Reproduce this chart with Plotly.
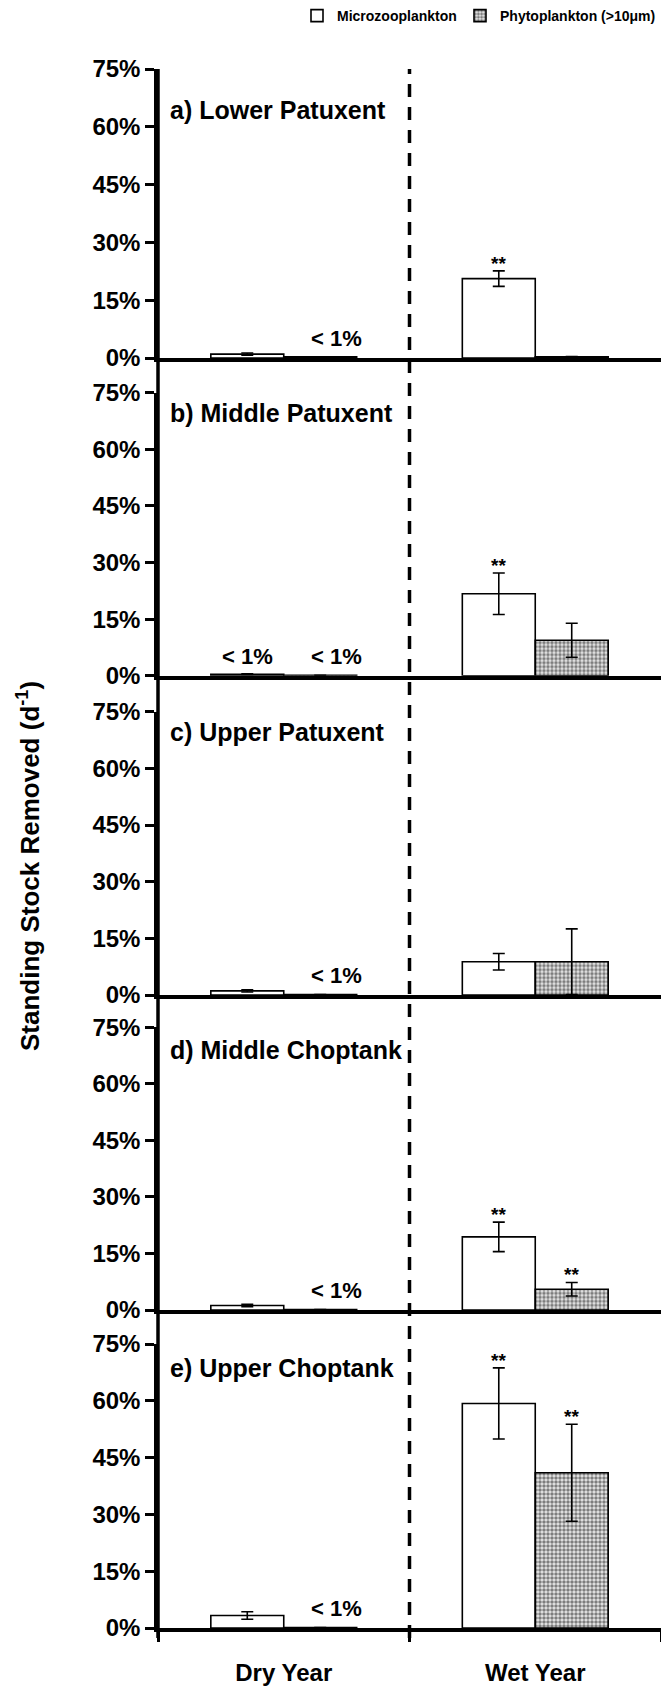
import plotly.graph_objects as go

# ---------------- data ----------------
years = ["Dry Year", "Wet Year"]
panel_titles = ["a) Lower Patuxent", "b) Middle Patuxent", "c) Upper Patuxent",
                "d) Middle Choptank", "e) Upper Choptank"]

micro_dry = [1.0, 0.4, 1.1, 1.2, 3.3]
micro_wet = [20.6, 21.7, 8.8, 19.4, 59.3]
micro_dry_err = [0.3, 0.1, 0.3, 0.3, 1.0]
micro_wet_err = [2.0, 5.5, 2.2, 3.9, 9.4]

phyto_dry = [0.3, 0.1, 0.1, 0.1, 0.1]
phyto_wet = [0.3, 9.4, 8.8, 5.5, 41.0]
phyto_dry_err = [0.0, 0.0, 0.0, 0.0, 0.0]
phyto_wet_err = [0.1, 4.5, 8.7, 1.8, 12.8]

micro_notes = [["", "**"], ["< 1%", "**"], ["", ""], ["", "**"], ["", "**"]]
phyto_notes = [["< 1%", ""], ["< 1%", ""], ["< 1%", ""], ["< 1%", "**"], ["< 1%", "**"]]

y_ticks = [0, 15, 30, 45, 60, 75]
y_tick_labels = ["0%", "15%", "30%", "45%", "60%", "75%"]

# ---------------- layout constants ----------------
W, H = 661, 1686
ML, MR, MT, MB = 158, 0, 69, 58
PH = H - MT - MB
panel_px = [(69, 358), (392.7, 675.7), (711.7, 995), (1027.3, 1310), (1344, 1628)]
label_drop = [41, 20, 20, 23, 24]

FONT = "Liberation Sans, Arial, Helvetica, sans-serif"
BAR_W = 0.29
OFF = BAR_W / 2


def to_paper(px):
    return (H - MB - px) / PH


fig = go.Figure()
annotations = []

for i in range(5):
    n = "" if i == 0 else str(i + 1)
    xa, ya = "x" + n, "y" + n
    fig.add_trace(go.Bar(
        x=years, y=[micro_dry[i], micro_wet[i]],
        error_y=dict(type="data", array=[micro_dry_err[i], micro_wet_err[i]],
                     color="black", thickness=1.6, width=6),
        marker=dict(color="white", line=dict(color="black", width=1.6)),
        name="Microzooplankton", legend="legend", showlegend=(i == 0),
        xaxis=xa, yaxis=ya, width=BAR_W, offset=-BAR_W,
    ))
    fig.add_trace(go.Bar(
        x=years, y=[phyto_dry[i], phyto_wet[i]],
        error_y=dict(type="data", array=[phyto_dry_err[i], phyto_wet_err[i]],
                     color="black", thickness=1.6, width=6),
        marker=dict(color="#d0d0d0", line=dict(color="black", width=1.6),
                    pattern=dict(shape=".", fgcolor="#111111", bgcolor="#e8e8e8",
                                 size=4, solidity=0.6)),
        name="Phytoplankton (>10\u03bcm)", legend="legend2", showlegend=(i == 0),
        xaxis=xa, yaxis=ya, width=BAR_W, offset=0,
    ))

    top, bot = panel_px[i]
    fig.layout["xaxis" + n] = dict(
        domain=[0, 1], anchor=ya, type="category", categoryarray=years,
        range=[-0.5, 1.5], showline=True, linewidth=3.5, linecolor="black",
        showgrid=False, zeroline=False, showticklabels=(i == 4),
        ticks="outside" if i == 4 else "", tickson="boundaries",
        ticklen=10, tickwidth=3, tickcolor="black", ticklabelstandoff=20,
        tickfont=dict(family=FONT, size=24, color="black", weight="bold"),
    )
    fig.layout["yaxis" + n] = dict(
        domain=[to_paper(bot), to_paper(top)], anchor=xa, range=[0, 75],
        tickmode="array", tickvals=y_ticks, ticktext=y_tick_labels,
        ticks="outside", ticklen=9,
        tickwidth=3, tickcolor="black", showline=True, linewidth=3.5,
        linecolor="black", showgrid=False, zeroline=False,
        tickfont=dict(family=FONT, size=24, color="black", weight="bold"),
    )

    annotations.append(dict(
        text=panel_titles[i], xref="paper", yref=ya + " domain",
        x=0.02, y=1, yshift=-label_drop[i], xanchor="left", yanchor="middle",
        showarrow=False, font=dict(family=FONT, size=25, color="black", weight="bold"),
    ))

    vals = [(micro_dry[i], micro_dry_err[i], phyto_dry[i], phyto_dry_err[i]),
            (micro_wet[i], micro_wet_err[i], phyto_wet[i], phyto_wet_err[i])]
    for j in range(2):
        mv, me, pv, pe = vals[j]
        for note, v, e, off, xs in ((micro_notes[i][j], mv, me, -OFF, 0),
                                    (phyto_notes[i][j], pv, pe, OFF, 16)):
            if note == "**":
                annotations.append(dict(
                    text="**", xref=xa, yref=ya, x=j + off, y=v + e, yshift=-5,
                    xanchor="center", yanchor="bottom", showarrow=False,
                    font=dict(family=FONT, size=19, color="black", weight="bold"),
                ))
            elif note:
                annotations.append(dict(
                    text=note, xref=xa, yref=ya, x=j + off, y=0, xshift=xs,
                    yshift=5, xanchor="center", yanchor="bottom", showarrow=False,
                    font=dict(family=FONT, size=22, color="black", weight="bold"),
                ))

annotations.append(dict(
    text="Standing Stock Removed (d<sup>-1</sup>)", xref="paper", yref="paper",
    x=(28 - ML) / (W - ML - MR), y=to_paper(866), textangle=-90,
    xanchor="center", yanchor="middle", showarrow=False,
    font=dict(family=FONT, size=26, color="black", weight="bold"),
))

shapes = [
    dict(type="line", xref="x5", yref="paper", x0=0.5, x1=0.5,
         y0=to_paper(1638), y1=1.0, line=dict(color="black", width=3.5, dash="13px,10px")),
    dict(type="line", xref="paper", yref="paper", x0=0, x1=0,
         y0=to_paper(1638), y1=1.0, line=dict(color="black", width=3.5)),
]

legend_font = dict(family=FONT, size=14, color="black", weight="bold")
fig.update_layout(
    width=W, height=H, margin=dict(l=ML, r=MR, t=MT, b=MB),
    paper_bgcolor="white", plot_bgcolor="white",
    barmode="overlay", annotations=annotations, shapes=shapes,
    showlegend=True,
    legend=dict(orientation="h", x=(462 - ML) / (W - ML), y=to_paper(16),
                xanchor="right", yanchor="middle", bgcolor="rgba(0,0,0,0)",
                font=legend_font, itemwidth=30),
    legend2=dict(orientation="h", x=1.0, y=to_paper(16),
                 xanchor="right", yanchor="middle", bgcolor="rgba(0,0,0,0)",
                 font=legend_font, itemwidth=30),
)

fig.write_html("out.html")
